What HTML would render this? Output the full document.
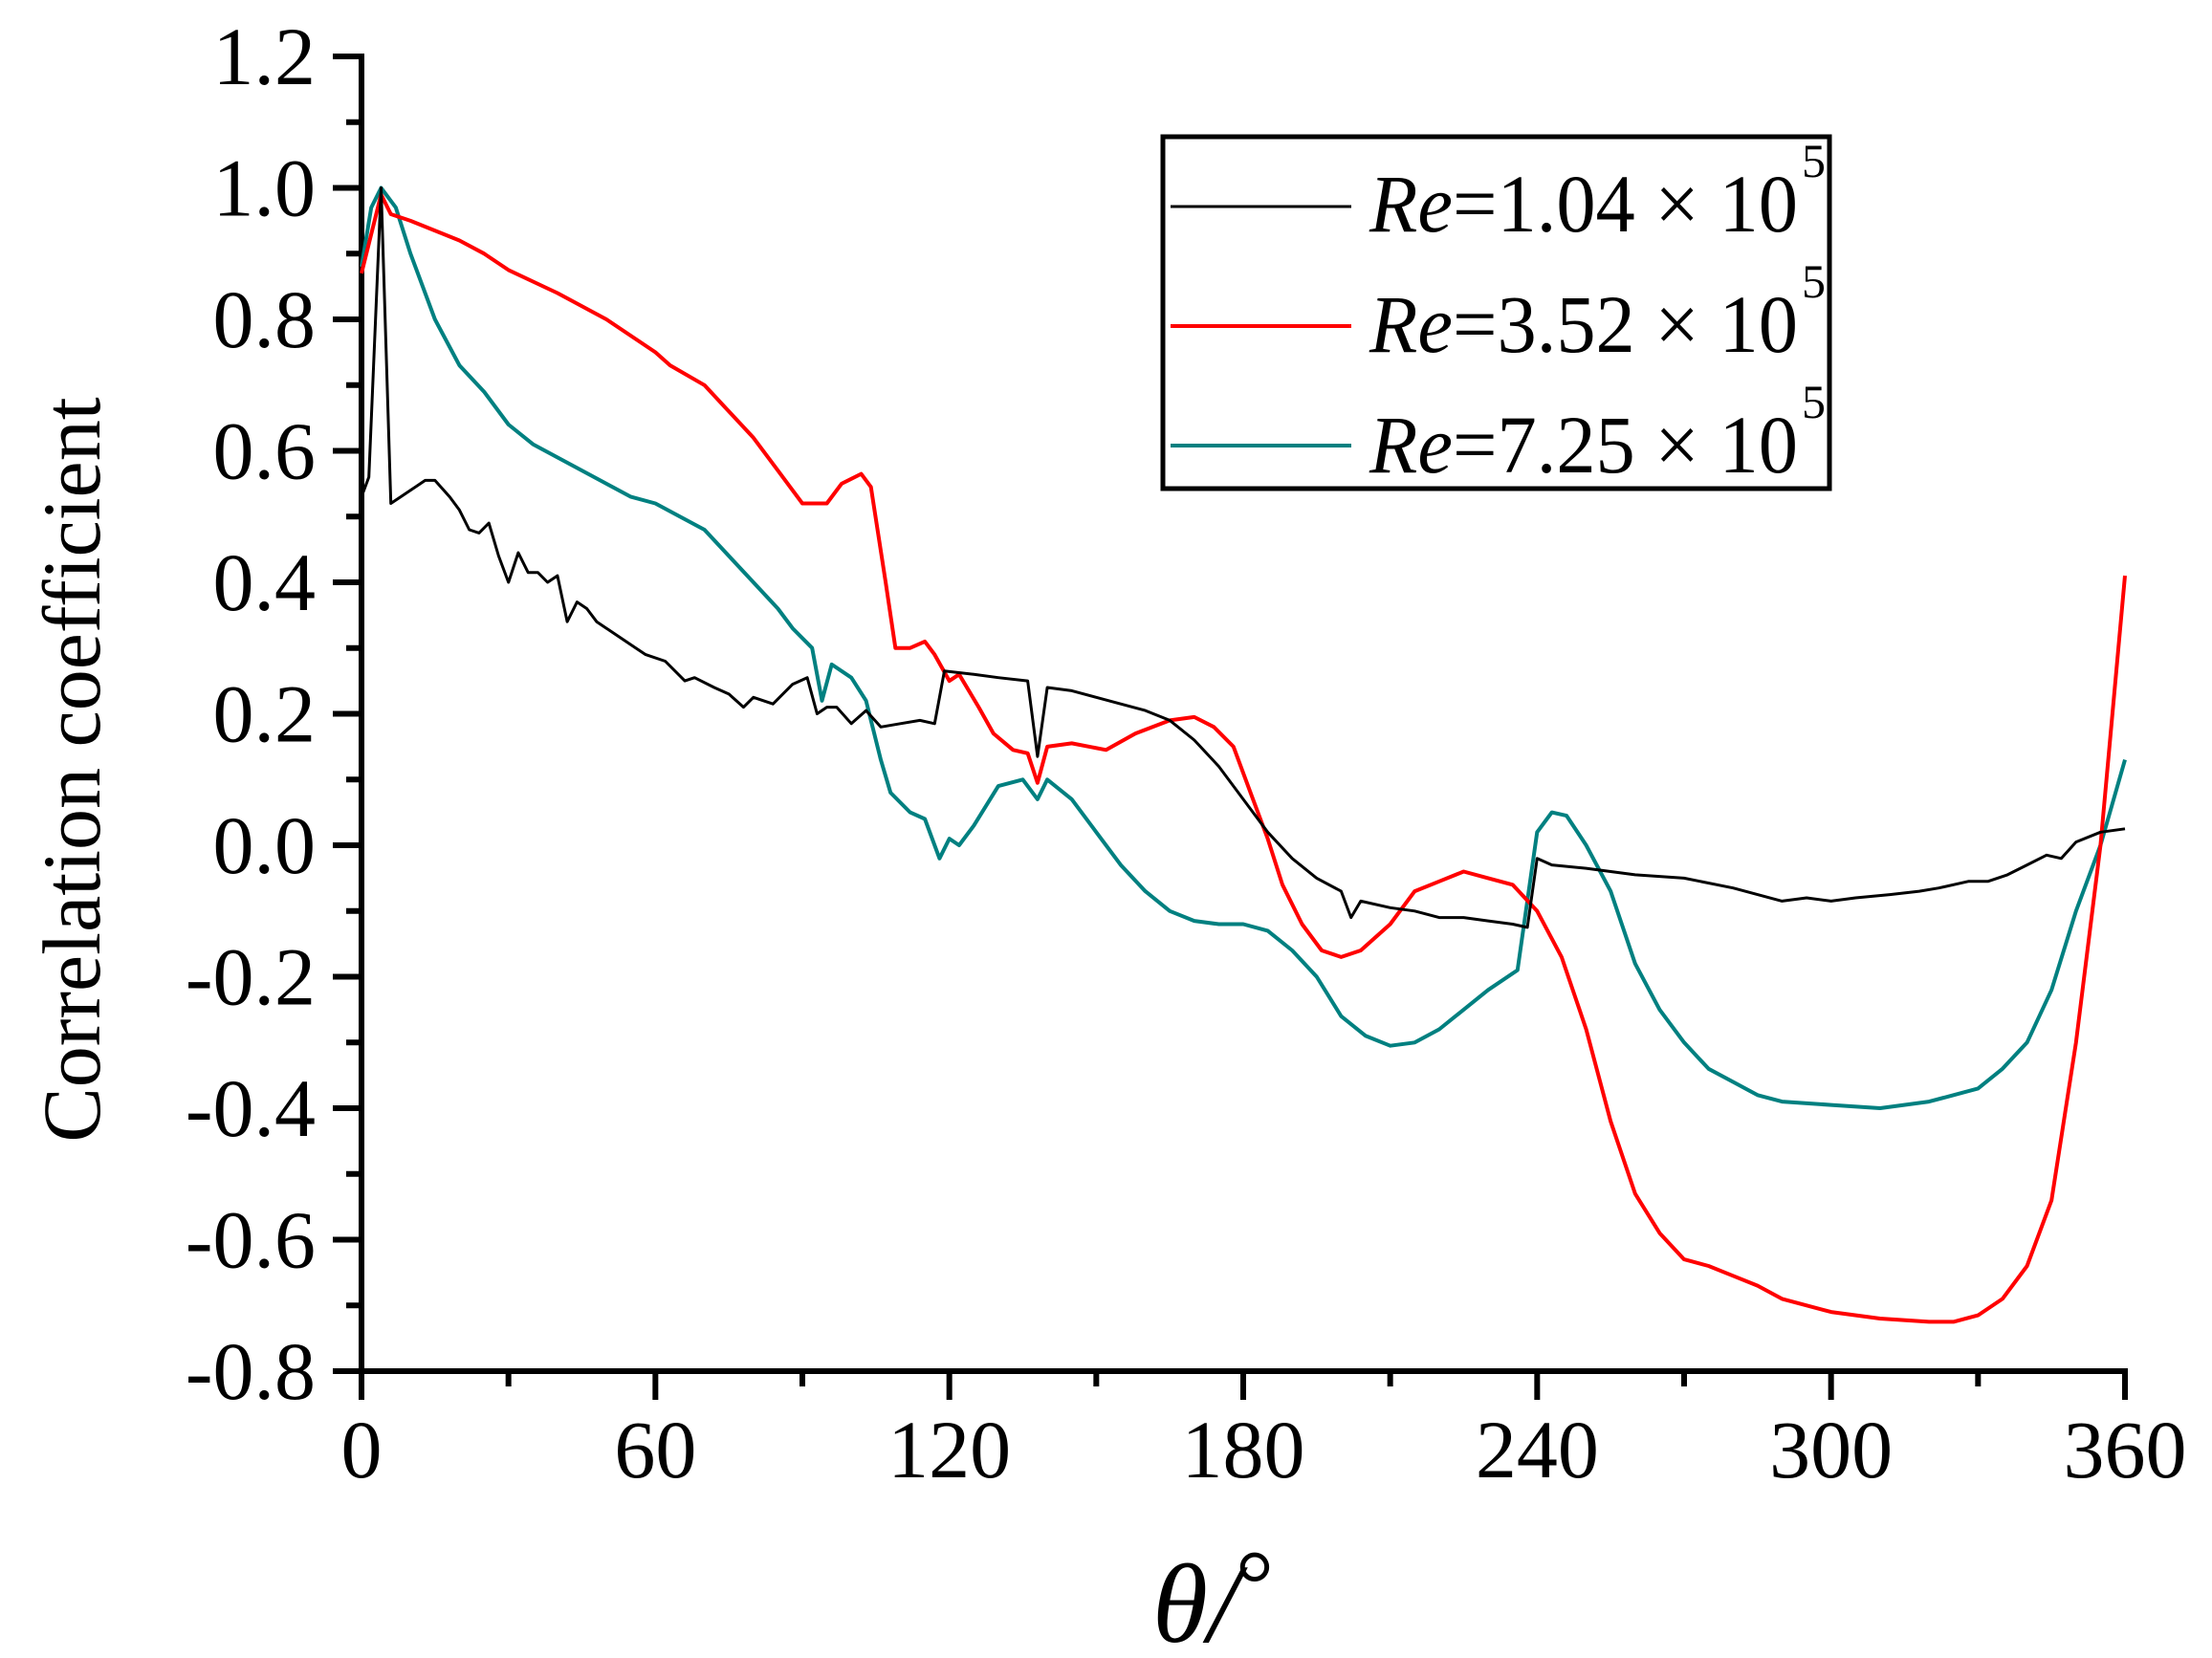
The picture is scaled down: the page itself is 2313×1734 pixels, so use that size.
<!DOCTYPE html>
<html><head><meta charset="utf-8"><style>
html,body{margin:0;padding:0;background:#fff;}
svg{display:block;}
text{font-family:"Liberation Serif","Times New Roman",serif;fill:#000;}
</style></head><body>
<svg id="s" width="2313" height="1734" viewBox="0 0 2313 1734" xmlns="http://www.w3.org/2000/svg">
<rect width="2313" height="1734" fill="#fff"/>
<g id="axes" stroke="#000" stroke-linecap="butt"></g>
<g id="lbl" font-size="86"></g>
<g id="data" fill="none" stroke-width="4" stroke-linejoin="round"></g>
<text x="0" y="0" font-size="86" text-anchor="middle" transform="translate(104,805) rotate(-90)">Correlation coefficient</text>
<text x="1205" y="1717" font-size="118" font-style="italic">θ/</text>
<text x="1292" y="1690" font-size="100">°</text>
<rect x="1216" y="143" width="697" height="368" fill="none" stroke="#000" stroke-width="5"/>
<line x1="1224" y1="216" x2="1413" y2="216" stroke="#000" stroke-width="3"/>
<line x1="1224" y1="341" x2="1413" y2="341" stroke="#ff0000" stroke-width="4"/>
<line x1="1224" y1="466" x2="1413" y2="466" stroke="#008080" stroke-width="4"/>
<g font-size="86">
<text x="1432" y="242" textLength="448" lengthAdjust="spacingAndGlyphs"><tspan font-style="italic">Re</tspan>=1.04 × 10</text>
<text x="1432" y="368" textLength="448" lengthAdjust="spacingAndGlyphs"><tspan font-style="italic">Re</tspan>=3.52 × 10</text>
<text x="1432" y="494" textLength="448" lengthAdjust="spacingAndGlyphs"><tspan font-style="italic">Re</tspan>=7.25 × 10</text>
</g>
<g font-size="50">
<text x="1884" y="185">5</text>
<text x="1884" y="311">5</text>
<text x="1884" y="437">5</text>
</g>
</svg>
<script>
var X0=378,X1=2222,Y0=1434,YT=59;
function px(t){return X0+(X1-X0)*t/360;}
function py(v){return Y0-(v+0.8)*(Y0-YT)/2.0;}
var ns="http://www.w3.org/2000/svg";
function el(p,n,a){var e=document.createElementNS(ns,n);for(var k in a)e.setAttribute(k,a[k]);p.appendChild(e);return e;}
var ax=document.getElementById('axes'),lb=document.getElementById('lbl');
el(ax,'line',{x1:X0,y1:YT-3,x2:X0,y2:Y0+3,'stroke-width':6});
el(ax,'line',{x1:X0-3,y1:Y0,x2:X1+3,y2:Y0,'stroke-width':6});
for(var i=0;i<=20;i++){var v=-0.8+i*0.1,y=py(v),maj=(i%2==0);
 el(ax,'line',{x1:X0-(maj?30:16),y1:y,x2:X0,y2:y,'stroke-width':6});
 if(maj){var t=el(lb,'text',{x:330,y:y+29,'text-anchor':'end'});t.textContent=(v<0?'-':'')+Math.abs(v).toFixed(1);}
}
for(var i=0;i<=12;i++){var t=i*30,x=px(t),maj=(i%2==0);
 el(ax,'line',{x1:x,y1:Y0,x2:x,y2:Y0+(maj?30:16),'stroke-width':6});
 if(maj){var tt=el(lb,'text',{x:x,y:1545,'text-anchor':'middle'});tt.textContent=t;}
}
var black=[[0,0.53],[1.5,0.56],[4,1.0],[6,0.52],[8,0.53],[10,0.54],[13,0.555],[15,0.555],[18,0.53],[20,0.51],[22,0.48],[24,0.475],[26,0.49],[28,0.44],[30,0.40],[32,0.445],[34,0.415],[36,0.415],[38,0.40],[40,0.41],[42,0.34],[44,0.37],[46,0.36],[48,0.34],[50,0.33],[54,0.31],[56,0.30],[58,0.29],[62,0.28],[66,0.25],[68,0.255],[72,0.24],[75,0.23],[78,0.21],[80,0.225],[84,0.215],[88,0.245],[91,0.255],[93,0.20],[95,0.21],[97,0.21],[100,0.185],[103,0.205],[106,0.18],[110,0.185],[114,0.19],[117,0.185],[119,0.265],[125,0.26],[130,0.255],[136,0.25],[138,0.135],[140,0.24],[145,0.235],[150,0.225],[155,0.215],[160,0.205],[165,0.19],[170,0.16],[175,0.12],[180,0.07],[185,0.02],[190,-0.02],[195,-0.05],[200,-0.07],[202,-0.11],[204,-0.085],[210,-0.095],[215,-0.10],[220,-0.11],[225,-0.11],[230,-0.115],[235,-0.12],[238,-0.125],[240,-0.02],[243,-0.03],[250,-0.035],[255,-0.04],[260,-0.045],[270,-0.05],[280,-0.065],[290,-0.085],[295,-0.08],[300,-0.085],[305,-0.08],[312,-0.075],[318,-0.07],[322,-0.065],[328,-0.055],[332,-0.055],[336,-0.045],[340,-0.03],[344,-0.015],[347,-0.02],[350,0.005],[355,0.02],[360,0.025]];
var red=[[0,0.87],[4,0.99],[6,0.96],[10,0.95],[20,0.92],[25,0.90],[30,0.875],[40,0.84],[50,0.80],[60,0.75],[63,0.73],[70,0.70],[80,0.62],[85,0.57],[90,0.52],[95,0.52],[98,0.55],[102,0.565],[104,0.545],[107,0.40],[109,0.30],[112,0.30],[115,0.31],[117,0.29],[120,0.25],[122,0.26],[126,0.21],[129,0.17],[133,0.145],[136,0.14],[138,0.095],[140,0.15],[145,0.155],[152,0.145],[158,0.17],[165,0.19],[170,0.195],[174,0.18],[178,0.15],[182,0.07],[185,0.01],[188,-0.06],[192,-0.12],[196,-0.16],[200,-0.17],[204,-0.16],[210,-0.12],[215,-0.07],[220,-0.055],[225,-0.04],[230,-0.05],[235,-0.06],[240,-0.10],[245,-0.17],[250,-0.28],[255,-0.42],[260,-0.53],[265,-0.59],[270,-0.63],[275,-0.64],[280,-0.655],[285,-0.67],[290,-0.69],[300,-0.71],[310,-0.72],[320,-0.725],[325,-0.725],[330,-0.715],[335,-0.69],[340,-0.64],[345,-0.54],[350,-0.30],[355,0.0],[360,0.41]];
var teal=[[0,0.88],[2,0.97],[4,1.0],[7,0.97],[10,0.90],[15,0.80],[20,0.73],[25,0.69],[30,0.64],[35,0.61],[40,0.59],[45,0.57],[50,0.55],[55,0.53],[60,0.52],[65,0.50],[70,0.48],[75,0.44],[80,0.40],[85,0.36],[88,0.33],[92,0.30],[94,0.22],[96,0.275],[100,0.255],[103,0.22],[106,0.13],[108,0.08],[112,0.05],[115,0.04],[118,-0.02],[120,0.01],[122,0.0],[125,0.03],[130,0.09],[135,0.10],[138,0.07],[140,0.10],[145,0.07],[150,0.02],[155,-0.03],[160,-0.07],[165,-0.10],[170,-0.115],[175,-0.12],[180,-0.12],[185,-0.13],[190,-0.16],[195,-0.20],[200,-0.26],[205,-0.29],[210,-0.305],[215,-0.30],[220,-0.28],[225,-0.25],[230,-0.22],[236,-0.19],[240,0.02],[243,0.05],[246,0.045],[250,0.0],[255,-0.07],[260,-0.18],[265,-0.25],[270,-0.30],[275,-0.34],[280,-0.36],[285,-0.38],[290,-0.39],[300,-0.395],[310,-0.40],[320,-0.39],[325,-0.38],[330,-0.37],[335,-0.34],[340,-0.30],[345,-0.22],[350,-0.10],[355,0.0],[360,0.13]];
var dg=document.getElementById('data');
function draw(d,c,w){var s='';d.forEach(function(p,i){s+=(i?'L':'M')+px(p[0]).toFixed(1)+','+py(p[1]).toFixed(1);});el(dg,'path',{d:s,stroke:c,'stroke-width':w});}
draw(teal,'#008080',4);draw(red,'#ff0000',4);draw(black,'#000',3);
</script>
</body></html>
